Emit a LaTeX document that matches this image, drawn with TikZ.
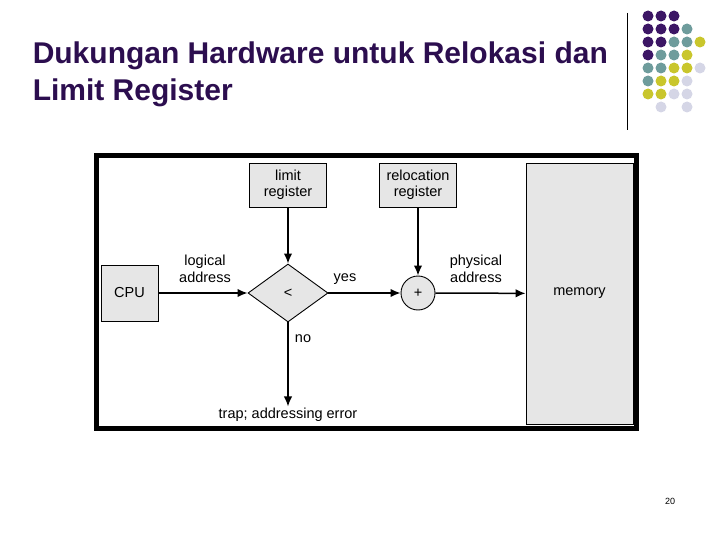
\documentclass[tikz,border=0pt]{standalone}
\usepackage{fontspec}
\setmainfont{Liberation Sans}
\usetikzlibrary{arrows.meta, positioning, shapes.geometric}
\definecolor{titlepurple}{HTML}{2C0E4F}
\definecolor{dotpurple}{HTML}{3C1665}
\definecolor{dotteal}{HTML}{6E9C9C}
\definecolor{dotyellow}{HTML}{C9C62C}
\definecolor{dotlilac}{HTML}{D5D6E6}
\definecolor{boxgray}{HTML}{E6E6E6}
\tikzset{
    -{Latex[length=10pt,width=8.5pt]},
    reg/.style = {rectangle, draw, fill=boxgray, line width=0.9pt,
                  minimum width=77pt, minimum height=44pt, align=center,
                  font=\fontsize{14.5}{16}\selectfont},
    cmp/.style = {diamond, draw, fill=boxgray, line width=0.9pt, inner sep=0pt,
                  minimum width=80pt, minimum height=58pt,
                  font=\fontsize{14.5}{16}\selectfont},
    adder/.style = {circle, draw, fill=boxgray, line width=0.9pt, inner sep=0pt,
                  minimum size=34pt, font=\fontsize{14.5}{16}\selectfont},
    lbl/.style = {align=center, inner sep=1pt, font=\fontsize{14.5}{17}\selectfont},
    heading/.style = {anchor=base west, inner sep=0pt, text=titlepurple,
                  font=\fontsize{30}{37}\selectfont\bfseries},
    dot/.style = {circle, fill=#1, inner sep=0pt, minimum size=11pt}
    }

\begin{document}
\begin{tikzpicture}[x=1pt, y=-1pt, line width=1.5pt]
    \useasboundingbox (0,0) rectangle (720,540);

    % slide title
    \node (title1) at (32,64) [heading] {Dukungan Hardware untuk Relokasi dan};
    \node (title2) at (32,101) [heading] {Limit Register};

    % corner decoration
    \draw[-, line width=0.9pt] (627,13) -- (627,130);
    \foreach \c/\r/\col in {0/0/dotpurple,1/0/dotpurple,2/0/dotpurple,
        0/1/dotpurple,1/1/dotpurple,2/1/dotpurple,3/1/dotteal,
        0/2/dotpurple,1/2/dotpurple,2/2/dotteal,3/2/dotteal,4/2/dotyellow,
        0/3/dotpurple,1/3/dotteal,2/3/dotteal,3/3/dotyellow,
        0/4/dotteal,1/4/dotteal,2/4/dotyellow,3/4/dotyellow,4/4/dotlilac,
        0/5/dotteal,1/5/dotyellow,2/5/dotyellow,3/5/dotlilac,
        0/6/dotyellow,1/6/dotyellow,2/6/dotlilac,3/6/dotlilac,
        1/7/dotlilac,3/7/dotlilac}
        \node (d\c\r) at (648+13*\c,16+13*\r) [dot=\col] {};

    % frame of the figure
    \draw[-, line width=5pt] (96.5,155.5) rectangle (636.5,428.5);

    \node (limreg) at (288,185) [reg] {limit\\register};
    \node (relreg) at (418,185) [reg] {relocation\\register};
    \node (cpu) at (129.5,293) [reg, minimum width=57pt, minimum height=56pt] {CPU};
    \node (cmp) at (288,293) [cmp] {<};
    \node (add) at (418,293) [adder] {+};
    \node (mem) at (579.5,293.5) [reg, minimum width=107pt, minimum height=261pt] {memory};
    \node (trap) at (288,415) [lbl] {trap; addressing error};

    \node (logaddr) at (205,269) [lbl] {logical\\address};
    \node (yes) at (345,279) [lbl] {yes};
    \node (physaddr) at (476,269) [lbl] {physical\\address};
    \node (no) at (303,339) [lbl] {no};

    \path (cpu) edge (cmp);
    \path (limreg) edge (cmp);
    \path (cmp) edge (add);
    \path (relreg) edge (add);
    \path (add) edge (mem);
    \path (cmp) edge (trap);

    \node (page) at (670,501) [font=\fontsize{9}{10}\selectfont] {20};
\end{tikzpicture}
\end{document}
